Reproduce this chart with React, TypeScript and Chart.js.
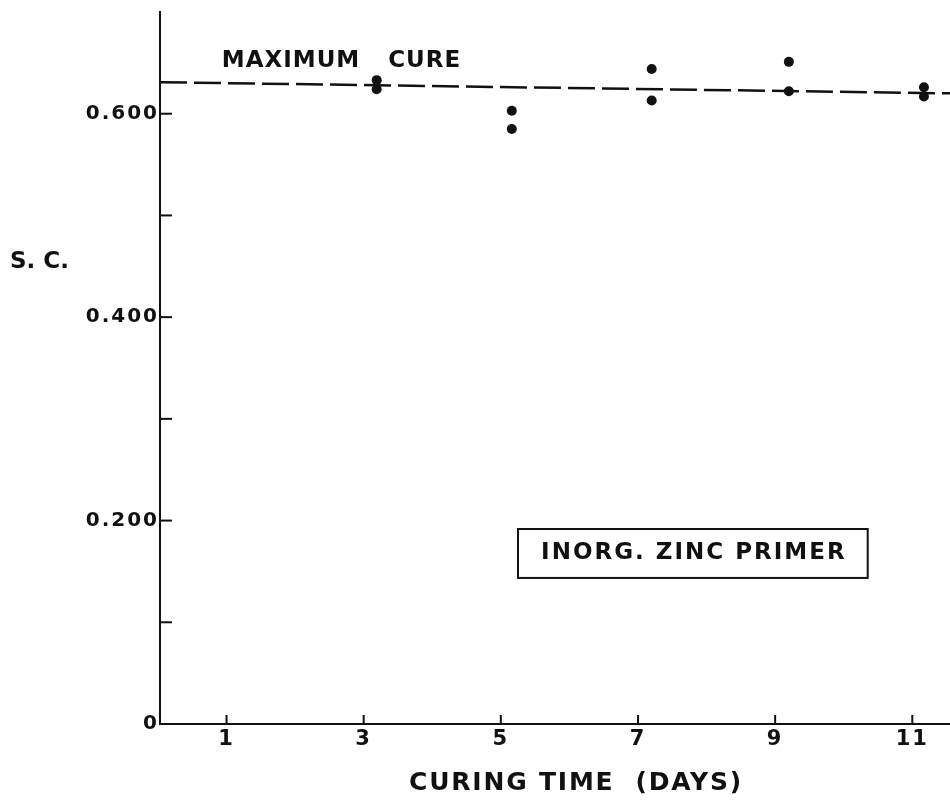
import React, { useEffect, useRef } from 'react';
import { Chart, registerables } from 'chart.js';

Chart.register(...registerables);

// ---- data ----
const dayTicks = [1, 3, 5, 7, 9, 11];
const yTickValues = [0, 0.1, 0.2, 0.3, 0.4, 0.5, 0.6];
const yTickLabels = ['0', '', '0.200', '', '0.400', '', '0.600'];
const pointDays = [3.19, 3.19, 5.16, 5.16, 7.2, 7.2, 9.2, 9.2, 11.17, 11.17];
const pointSC = [0.633, 0.624, 0.603, 0.585, 0.644, 0.613, 0.651, 0.622, 0.626, 0.617];
const cureDays = [0.03, 11.55];
const cureSC = [0.631, 0.62];

const FONT = '"DejaVu Sans", sans-serif';
const INK = '#111';

const decorPlugin = {
  id: 'decor',
  beforeDraw(chart: any) {
    chart.ctx.letterSpacing = '2px';
  },
  afterDraw(chart: any) {
    const { ctx, scales } = chart;
    const x = scales.x;
    const y = scales.y;
    const left = chart.chartArea.left;
    const bottom = chart.chartArea.bottom;
    ctx.save();
    ctx.strokeStyle = INK;
    ctx.fillStyle = INK;
    ctx.lineWidth = 2;
    // inward tick marks
    yTickValues.forEach((v) => {
      if (v === 0) return;
      const py = y.getPixelForValue(v);
      ctx.beginPath();
      ctx.moveTo(left, py);
      ctx.lineTo(left + 12, py);
      ctx.stroke();
    });
    dayTicks.forEach((d) => {
      const px = x.getPixelForValue(d);
      ctx.beginPath();
      ctx.moveTo(px, bottom);
      ctx.lineTo(px, bottom - 9);
      ctx.stroke();
    });

    ctx.textBaseline = 'middle';
    ctx.textAlign = 'center';
    // MAXIMUM CURE
    ctx.font = `bold 23px ${FONT}`;
    ctx.letterSpacing = '1px';
    ctx.fillText('MAXIMUM', x.getPixelForValue(1.94), y.getPixelForValue(0.652));
    ctx.fillText('CURE', x.getPixelForValue(3.89), y.getPixelForValue(0.652));

    // box
    const bx1 = x.getPixelForValue(5.25);
    const bx2 = x.getPixelForValue(10.35);
    const by1 = y.getPixelForValue(0.1917);
    const by2 = y.getPixelForValue(0.1436);
    ctx.lineWidth = 2;
    ctx.strokeRect(bx1, by1, bx2 - bx1, by2 - by1);
    ctx.font = `bold 23px ${FONT}`;
    ctx.letterSpacing = '2px';
    ctx.fillText('INORG. ZINC PRIMER', (bx1 + bx2) / 2 + 1, (by1 + by2) / 2);

    // y title
    ctx.textAlign = 'left';
    ctx.letterSpacing = '0px';
    ctx.font = `bold 23px ${FONT}`;
    ctx.fillText('S. C.', 10, 262);

    // x title
    ctx.textAlign = 'center';
    ctx.letterSpacing = '1.8px';
    ctx.font = `bold 25px ${FONT}`;
    ctx.fillText('CURING TIME  (DAYS)', 576, 783);
    ctx.restore();
  },
};

export default function App() {
  const ref = useRef<HTMLCanvasElement>(null);
  useEffect(() => {
    if (!ref.current) return;
    const chart = new Chart(ref.current, {
      type: 'scatter',
      data: {
        datasets: [
          {
            type: 'line',
            label: 'Maximum cure',
            data: cureDays.map((d, i) => ({ x: d, y: cureSC[i] })),
            borderColor: INK,
            borderWidth: 2.5,
            borderDash: [27, 7],
            pointRadius: 0,
            fill: false,
          } as any,
          {
            type: 'scatter',
            label: 'Inorg. zinc primer',
            data: pointDays.map((d, i) => ({ x: d, y: pointSC[i] })),
            backgroundColor: INK,
            borderColor: INK,
            borderWidth: 0,
            pointRadius: 5,
          },
        ],
      },
      options: {
        responsive: false,
        animation: false,
        layout: { autoPadding: false, padding: { top: 12, right: 0, left: 0, bottom: 0 } },
        plugins: { legend: { display: false }, tooltip: { enabled: false } },
        scales: {
          x: {
            type: 'linear',
            min: 0.03,
            max: 11.55,
            afterBuildTicks: (s: any) => {
              s.ticks = dayTicks.map((v) => ({ value: v }));
            },
            afterFit: (s: any) => {
              s.height = 78;
              s.paddingLeft = 0;
              s.paddingRight = 0;
            },
            ticks: {
              autoSkip: false,
              maxRotation: 0,
              padding: 3,
              color: INK,
              font: { family: FONT, size: 21, weight: 'bold' },
              callback: (v: any) => String(v),
            },
            grid: { display: false, drawTicks: false },
            border: { display: true, color: INK, width: 2 },
          },
          y: {
            min: 0,
            max: 0.7,
            afterBuildTicks: (s: any) => {
              s.ticks = yTickValues.map((v) => ({ value: v }));
            },
            afterFit: (s: any) => {
              s.width = 160;
              s.paddingTop = 0;
              s.paddingBottom = 0;
            },
            ticks: {
              autoSkip: false,
              padding: 1,
              color: INK,
              font: { family: FONT, size: 20, weight: 'bold' },
              callback: (_v: any, i: number) => yTickLabels[i],
            },
            grid: { display: false, drawTicks: false },
            border: { display: true, color: INK, width: 2 },
          },
        },
      } as any,
      plugins: [decorPlugin],
    });
    return () => chart.destroy();
  }, []);
  return (
    <div style={{ position: 'absolute', left: 0, top: 0, width: 950, height: 802, background: '#fff' }}>
      <canvas ref={ref} width={950} height={802} style={{ display: 'block' }} />
    </div>
  );
}
